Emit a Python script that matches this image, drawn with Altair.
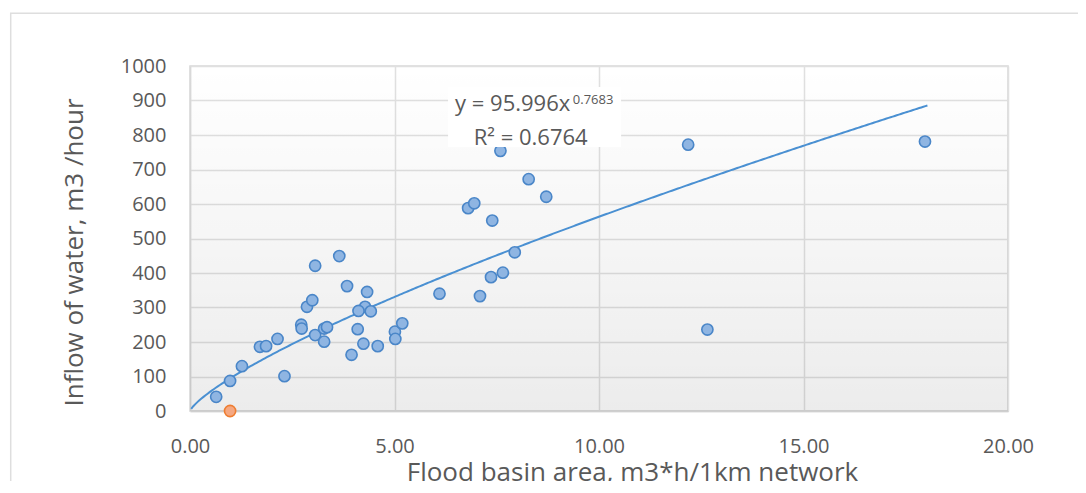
import altair as alt
import pandas as pd

# ---- data ----
x_area = [0.64, 0.98, 1.27, 1.71, 1.86, 2.14, 2.31, 2.72, 2.73, 2.86, 2.99, 3.06,
          3.65, 3.84, 4.33, 4.28, 4.12, 4.42, 3.06, 3.28, 3.35, 3.28, 4.10, 3.95,
          4.24, 4.59, 5.01, 5.19, 5.02, 6.10, 7.09, 7.36, 7.65, 7.94, 7.39, 6.80,
          6.95, 8.28, 8.71, 7.59, 12.18, 12.65, 17.97]
y_inflow = [41, 87, 130, 186, 188, 209, 101, 250, 239, 302, 321, 421,
            449, 362, 345, 302, 290, 289, 220, 239, 243, 201, 237, 163,
            195, 188, 230, 254, 209, 340, 333, 388, 401, 460, 552, 588,
            602, 672, 621, 754, 772, 236, 781]
orange_x = [0.98]
orange_y = [0]

# trendline from the equation shown on the chart
coef_a = 95.996
coef_b = 0.7683
trend_start = 0.03
trend_end = 18.07

x_ticks = [0, 5, 10, 15, 20]
y_ticks = [0, 100, 200, 300, 400, 500, 600, 700, 800, 900, 1000]

eq_text = "y = 95.996x"
eq_exp = "0.7683"
r2_text = "R² = 0.6764"
x_title = "Flood basin area, m3*h/1km network"
y_title = "Inflow of water, m3 /hour"

# ---- style ----
W, H = 818, 345
FONT = "Open Sans"
GRAY = "#595959"
GRID = "#e0e0e0"

xs = alt.Scale(domain=[0, 20], nice=False, zero=False, padding=0)
ys = alt.Scale(domain=[0, 1000], nice=False, zero=False, padding=0)

x_axis = alt.Axis(values=x_ticks, format=".2f", title=x_title, grid=True,
                  gridColor=GRID, gridWidth=1.5, ticks=False, tickSize=0,
                  domainColor="#cfcfcf", domainWidth=1.5, labelOverlap=False,
                  labelFlush=False,
                  labelFont=FONT, labelFontSize=20, labelColor=GRAY,
                  labelBaseline="alphabetic", labelPadding=41,
                  titleFont=FONT, titleFontSize=26, titleColor=GRAY,
                  titleFontWeight="normal", titleX=442, titleY=69,
                  titleAlign="center", titleBaseline="alphabetic")
y_axis = alt.Axis(values=y_ticks, format="d", title=y_title, grid=True,
                  gridColor=GRID, gridWidth=1.5, ticks=False, tickSize=0,
                  domainColor="#d9d9d9", domainWidth=1.5, labelOverlap=False,
                  labelFlush=False,
                  labelFont=FONT, labelFontSize=20, labelColor=GRAY,
                  labelPadding=24,
                  titleFont=FONT, titleFontSize=26, titleColor=GRAY,
                  titleFontWeight="normal", titleX=-108, titleY=186,
                  titleAlign="center", titleBaseline="alphabetic")


def X(field):
    return alt.X(field, type="quantitative", scale=xs, axis=x_axis)


def Y(field):
    return alt.Y(field, type="quantitative", scale=ys, axis=y_axis)


one = pd.DataFrame({"a": [0]})

shade = alt.Chart(one).mark_rect(
    fill=alt.LinearGradient(
        gradient="linear",
        stops=[alt.GradientStop(color="rgba(0,0,0,0)", offset=0),
               alt.GradientStop(color="rgba(0,0,0,0.075)", offset=1)],
        x1=0, x2=0, y1=0, y2=1)
).encode(x=alt.value(0), x2=alt.value(W), y=alt.value(0), y2=alt.value(H))

trend = alt.Chart(alt.sequence(trend_start, trend_end + 0.01, 0.05, as_="x")).transform_calculate(
    y=f"{coef_a}*pow(datum.x,{coef_b})"
).mark_line(color="#4a90d2", strokeWidth=2).encode(x=X("x"), y=Y("y"))

pts = alt.Chart(pd.DataFrame({"x": x_area, "y": y_inflow})).mark_point(
    shape="circle", filled=True, fill="#8fb5e2", stroke="#4a86c8",
    strokeWidth=1.6, size=125, opacity=1
).encode(x=X("x"), y=Y("y"))

orange = alt.Chart(pd.DataFrame({"x": orange_x, "y": orange_y})).mark_point(
    shape="circle", filled=True, fill="#f5a882", stroke="#ee7d31",
    strokeWidth=1.6, size=125, opacity=1
).encode(x=X("x"), y=Y("y"))

# annotation placement (data coordinates)
box = alt.Chart(pd.DataFrame({"x": [6.31], "x2": [10.54], "y": [939], "y2": [765]})).mark_rect(
    color="white").encode(x=X("x"), x2="x2:Q", y=Y("y"), y2="y2:Q")

t1 = alt.Chart(pd.DataFrame({"x": [6.48], "y": [870]})).mark_text(
    text=eq_text, align="left", baseline="alphabetic",
    font=FONT, fontSize=22, color=GRAY).encode(x=X("x"), y=Y("y"))
t1e = alt.Chart(pd.DataFrame({"x": [9.36], "y": [889]})).mark_text(
    text=eq_exp, align="left", baseline="alphabetic",
    font=FONT, fontSize=13, color=GRAY).encode(x=X("x"), y=Y("y"))
t2 = alt.Chart(pd.DataFrame({"x": [8.33], "y": [772]})).mark_text(
    text=r2_text, align="center", baseline="alphabetic",
    font=FONT, fontSize=22, color=GRAY).encode(x=X("x"), y=Y("y"))

frame = alt.Chart(one).mark_rect(fillOpacity=0, stroke="#dedede", strokeWidth=1.5).encode(
    x=alt.value(-179.3), y=alt.value(-52.7), x2=alt.value(W + 120), y2=alt.value(H + 150))

chart = alt.layer(shade, trend, pts, orange, box, t1, t1e, t2, frame).properties(
    width=W, height=H,
    autosize=alt.AutoSizeParams(type="none"),
    padding={"left": 182, "top": 58, "right": 70, "bottom": 70},
    background="white",
).configure_view(stroke="#d9d9d9", strokeWidth=1.5)

chart.save("out.html", embed_options={"renderer": "svg", "actions": False})
